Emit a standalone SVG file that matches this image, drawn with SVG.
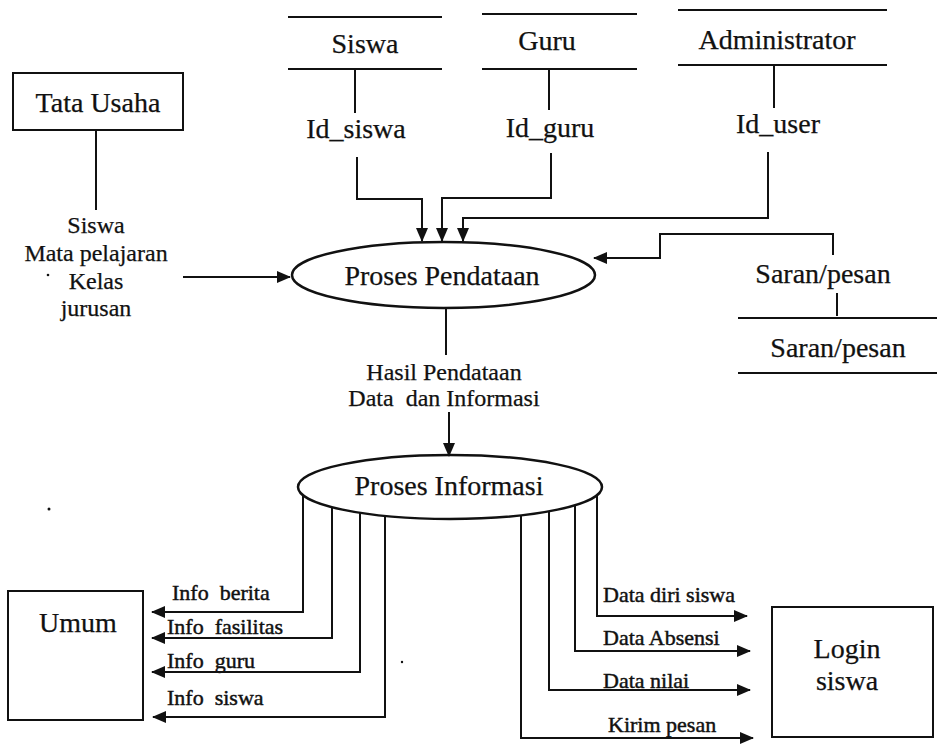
<svg xmlns="http://www.w3.org/2000/svg" width="937" height="744" viewBox="0 0 937 744">
  <style>
    text { font-family: 'Liberation Serif', 'Times New Roman', 'DejaVu Serif', serif; fill: #111; stroke: #111; stroke-width: 0.25; }
    .big { font-size: 28px; }
    .mid { font-size: 24px; }
    .small { font-size: 22px; stroke-width: 0.45; }
    .box { fill: #fff; stroke: #111; stroke-width: 2; }
    .proc { fill: #fff; stroke: #111; stroke-width: 2.5; }
    .store { stroke: #111; stroke-width: 2; }
    .flow { fill: none; stroke: #111; stroke-width: 2; }
    .arr { marker-end: url(#head); }
  </style>
  <defs>
    <marker id="head" viewBox="0 0 14 12" refX="13" refY="6" markerWidth="14" markerHeight="12" markerUnits="userSpaceOnUse" orient="auto">
      <path d="M0,0 L14,6 L0,12 Z" fill="#111"/>
    </marker>
  </defs>

  <rect width="937" height="744" fill="#fff"/>

  <!-- external entities -->
  <g id="tata-usaha">
    <rect class="box" x="13" y="73" width="170" height="57"/>
    <text class="big" x="98" y="112" text-anchor="middle">Tata Usaha</text>
  </g>
  <g id="umum">
    <rect class="box" x="8" y="591" width="135" height="129"/>
    <text class="big" x="78" y="632" text-anchor="middle">Umum</text>
  </g>
  <g id="login-siswa">
    <rect class="box" x="772" y="607" width="161" height="130"/>
    <text class="big" x="847" y="658" text-anchor="middle">Login</text>
    <text class="big" x="847" y="690" text-anchor="middle">siswa</text>
  </g>

  <!-- data stores -->
  <g id="store-siswa">
    <line class="store" x1="288" y1="17" x2="442" y2="17"/>
    <line class="store" x1="288" y1="69" x2="442" y2="69"/>
    <text class="big" x="365" y="53" text-anchor="middle">Siswa</text>
  </g>
  <g id="store-guru">
    <line class="store" x1="482" y1="14" x2="637" y2="14"/>
    <line class="store" x1="482" y1="69" x2="637" y2="69"/>
    <text class="big" x="547" y="50" text-anchor="middle">Guru</text>
  </g>
  <g id="store-administrator">
    <line class="store" x1="678" y1="10" x2="887" y2="10"/>
    <line class="store" x1="678" y1="65" x2="887" y2="65"/>
    <text class="big" x="777" y="49" text-anchor="middle">Administrator</text>
  </g>
  <g id="store-saran">
    <line class="store" x1="738" y1="318" x2="937" y2="318"/>
    <line class="store" x1="738" y1="373" x2="937" y2="373"/>
    <text class="big" x="838" y="357" text-anchor="middle">Saran/pesan</text>
  </g>

  <!-- processes -->
  <g id="proses-pendataan">
    <ellipse class="proc" cx="443.5" cy="275" rx="151.5" ry="33"/>
    <text class="big" x="442" y="285" text-anchor="middle">Proses Pendataan</text>
  </g>
  <g id="proses-informasi">
    <ellipse class="proc" cx="450" cy="487" rx="152" ry="32"/>
    <text class="big" x="449" y="495" text-anchor="middle">Proses Informasi</text>
  </g>

  <!-- data flows -->
  <g id="connectors">
    <!-- Tata Usaha to Proses Pendataan -->
    <path class="flow" d="M96,130 V210"/>
    <path class="flow arr" d="M183,277 H290"/>
    <text class="mid" x="96" y="233" text-anchor="middle">Siswa</text>
    <text class="mid" x="96" y="261" text-anchor="middle">Mata pelajaran</text>
    <text class="mid" x="96" y="289" text-anchor="middle">Kelas</text>
    <text class="mid" x="96" y="316" text-anchor="middle">jurusan</text>

    <!-- stores to Proses Pendataan -->
    <path class="flow" d="M355,69 V113"/>
    <text class="big" x="356" y="138" text-anchor="middle">Id_siswa</text>
    <path class="flow arr" d="M357,157 V199 H422 V241"/>

    <path class="flow" d="M549,69 V110"/>
    <text class="big" x="550" y="137" text-anchor="middle">Id_guru</text>
    <path class="flow arr" d="M551,153 V198 H442 V241"/>

    <path class="flow" d="M774,65 V108"/>
    <text class="big" x="778" y="133" text-anchor="middle">Id_user</text>
    <path class="flow arr" d="M768,152 V218 H463 V241"/>

    <path class="flow" d="M837,316 V293"/>
    <text class="big" x="823" y="283" text-anchor="middle">Saran/pesan</text>
    <path class="flow arr" d="M833,255 V234 H660 V258 H594"/>

    <!-- Proses Pendataan to Proses Informasi -->
    <path class="flow" d="M446,308 V355"/>
    <text class="mid" x="444" y="380" text-anchor="middle">Hasil Pendataan</text>
    <text class="mid" x="444" y="406" text-anchor="middle" xml:space="preserve">Data  dan Informasi</text>
    <path class="flow arr" d="M449,412 V456"/>

    <!-- Proses Informasi to Umum -->
    <path class="flow arr" d="M303,495 V612 H152"/>
    <path class="flow arr" d="M332,507 V638 H152"/>
    <path class="flow arr" d="M360,513 V672 H152"/>
    <path class="flow arr" d="M385,516 V717 H153"/>
    <text class="small" x="172" y="600" xml:space="preserve">Info  berita</text>
    <text class="small" x="167" y="634" xml:space="preserve">Info  fasilitas</text>
    <text class="small" x="167" y="668" xml:space="preserve">Info  guru</text>
    <text class="small" x="167" y="705" xml:space="preserve">Info  siswa</text>

    <!-- Proses Informasi to Login siswa -->
    <path class="flow arr" d="M597,495 V616 H747"/>
    <path class="flow arr" d="M575,505 V651 H750"/>
    <path class="flow arr" d="M549,511 V690 H750"/>
    <path class="flow arr" d="M521,515 V738 H753"/>
    <text class="small" x="603" y="602">Data diri siswa</text>
    <text class="small" x="603" y="645">Data Absensi</text>
    <text class="small" x="603" y="688">Data nilai</text>
    <text class="small" x="608" y="732">Kirim pesan</text>
  </g>

  <!-- specks -->
  <circle cx="48" cy="275" r="1.3" fill="#111"/>
  <circle cx="49" cy="509" r="1.5" fill="#111"/>
  <circle cx="402" cy="662" r="1.2" fill="#111"/>
</svg>
